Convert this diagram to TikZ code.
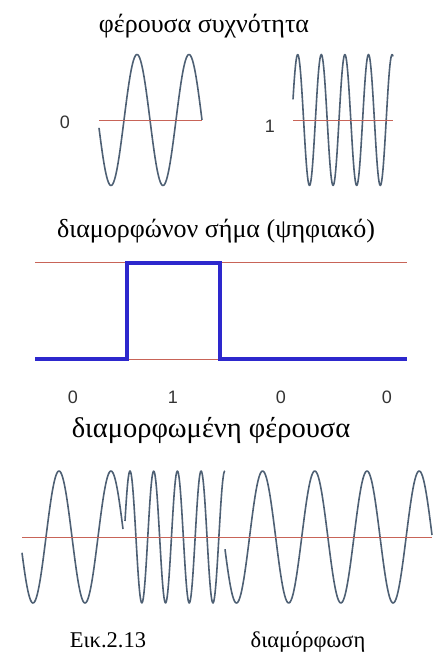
\documentclass[tikz,border=0pt]{standalone}
\usepackage{fontspec}
\setmainfont{Liberation Serif}
\newfontfamily\bitfont{Liberation Sans}
\usetikzlibrary{positioning,calc}
\definecolor{WaveGray}{RGB}{78,96,116}
\definecolor{AxisRed}{RGB}{200,100,88}
\definecolor{PulseBlue}{RGB}{45,40,205}
\tikzset{
	wave/.style={draw=WaveGray,line width=1.6pt,line join=round},
	axis/.style={draw=AxisRed,line width=1pt},
	pulse/.style={draw=PulseBlue,line width=3.2pt},
	title/.style={anchor=base,inner sep=0pt,font=\fontsize{26}{30}\selectfont},
	bit/.style={anchor=base,inner sep=0pt,text=black!80,font=\bitfont\fontsize{18}{21}\selectfont},
	caption/.style={anchor=base,inner sep=0pt,font=\fontsize{22.5}{27}\selectfont},
}
\begin{document}
\begin{tikzpicture}[x=1pt,y=-1pt]
	\useasboundingbox (0,0) rectangle (443,656);
	% carriers
	\node[title] (carrier) at (204,32) {φέρουσα συχνότητα};
	\begin{scope}
		\coordinate (z0) at (99,120);
		\coordinate (z1) at (202,120);
		\draw[wave] plot[domain=99:202,samples=120] (\x,{120+65.5*cos((\x-111)/52*360)});
		\draw[axis] (z0)--(z1);
		\node[bit] (bitz) at (65,128.5) {0};
	\end{scope}
	\begin{scope}
		\coordinate (o0) at (293,120);
		\coordinate (o1) at (393,120);
		\draw[wave] plot[domain=293:393,samples=160] (\x,{120-65.5*cos((\x-297.7)/23.6*360)});
		\draw[axis] (o0)--(o1);
		\node[bit] (bito) at (270,132.5) {1};
	\end{scope}
	% digital signal
	\node[title] (signal) at (216,237) {διαμορφώνον σήμα (ψηφιακό)};
	\coordinate (hi0) at (35,262);
	\coordinate (hi1) at (407,262);
	\coordinate (lo0) at (35,359);
	\coordinate (lo1) at (407,359);
	\draw[axis] (hi0)--(hi1);
	\draw[axis] (lo0)--(lo1);
	\coordinate (up0) at (127,359);
	\coordinate (up1) at (127,263);
	\coordinate (dn0) at (220,263);
	\coordinate (dn1) at (220,359);
	\draw[pulse] (lo0)--(up0)--(up1)--(dn0)--(dn1)--(lo1);
	\foreach \b/\x/\t in {b1/73/0,b2/173/1,b3/281/0,b4/387/0}
	\node[bit] (\b) at (\x,403) {\t};
	% modulated carrier
	\node[title,font=\fontsize{28.5}{32}\selectfont] (modul) at (211,437) {διαμορφωμένη φέρουσα};
	\coordinate (m0) at (22,537);
	\coordinate (m1) at (432,537);
	\draw[wave] plot[domain=22:123,samples=120] (\x,{537+66*cos((\x-33)/52*360)});
	\draw[wave] plot[domain=125:225,samples=160] (\x,{537-66*cos((\x-130)/23.7*360)});
	\draw[wave] plot[domain=225:432,samples=220] (\x,{537+66*cos((\x-236.5)/52.2*360)});
	\draw[axis] (m0)--(m1);
	% caption
	\node[caption] (fig) at (108,647) {Εικ.2.13};
	\node[caption] (name) at (308,647) {διαμόρφωση};
\end{tikzpicture}
\end{document}
